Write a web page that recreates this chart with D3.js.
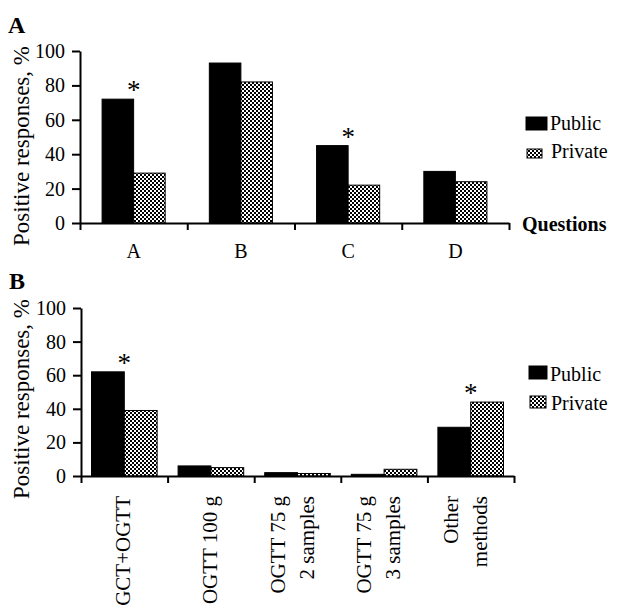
<!DOCTYPE html>
<html>
<head>
<meta charset="utf-8">
<script src="https://cdn.jsdelivr.net/npm/d3@7"></script>
<style>
  body { margin: 0; background: #fff; }
  text { font-family: "Liberation Serif", "Times New Roman", serif; fill: #000; }
</style>
</head>
<body>
<svg id="chart" width="617" height="610"></svg>
<script>
// data
var seriesNames = ['Public', 'Private'];
var yTicks = [0, 20, 40, 60, 80, 100];

var catsA = ['A', 'B', 'C', 'D'];
var publicA = [72, 93, 45, 30];
var privateA = [29, 82, 22, 24];
var starA = [1, 0, 1, 0];

var catsB = ['GCT+OGTT', 'OGTT 100 g', 'OGTT 75 g\n2 samples', 'OGTT 75 g\n3 samples', 'Other\nmethods'];
var publicB = [62, 6, 2, 1, 29];
var privateB = [39, 5, 1.5, 4, 44];
var starB = [1, 0, 0, 0, 1];

var svg = d3.select('#chart');

// checkered fill for the private bars
var pat = svg.append('defs').append('pattern')
    .attr('id', 'chk')
    .attr('width', 4).attr('height', 4)
    .attr('patternUnits', 'userSpaceOnUse');
pat.append('rect').attr('width', 4).attr('height', 4).attr('fill', '#000');
pat.append('rect').attr('width', 2).attr('height', 2).attr('fill', '#fff');
pat.append('rect').attr('x', 2).attr('y', 2).attr('width', 2).attr('height', 2).attr('fill', '#fff');

function drawPanel(o) {
    var g = svg.append('g');
    var n = o.cats.length;

    var x0 = d3.scaleBand().domain(d3.range(n)).range([o.left, o.right]);
    var x1 = d3.scaleBand().domain(seriesNames).range([0, x0.bandwidth()]).paddingOuter(o.pad);
    var y = d3.scaleLinear().domain([0, 100]).range([o.bottom, o.top]);
    var vals = [o.pub, o.priv];

    // bars
    seriesNames.forEach(function(s, si) {
        g.selectAll('rect.s' + si)
            .data(vals[si])
            .enter().append('rect')
            .attr('x', function(d, i) { return x0(i) + x1(s); })
            .attr('y', function(d) { return y(d); })
            .attr('width', x1.bandwidth())
            .attr('height', function(d) { return y(0) - y(d); })
            .attr('fill', si === 0 ? '#000' : 'url(#chk)')
            .attr('stroke', '#000')
            .attr('stroke-width', 1);
    });

    // asterisks over significant pairs
    var sig = d3.range(n).filter(function(i) { return o.star[i]; });
    g.selectAll('text.star')
        .data(sig)
        .enter().append('text')
        .attr('x', function(i) { return x0(i) + x0.bandwidth() / 2; })
        .attr('y', function(i) { return y(Math.max(o.pub[i], o.priv[i])); })
        .attr('text-anchor', 'middle')
        .style('font-size', '27px')
        .text('*');

    // y axis
    var ya = g.append('g')
        .attr('transform', 'translate(' + o.left + ',0)')
        .call(d3.axisLeft(y).tickValues(yTicks).tickSize(8).tickSizeOuter(0).tickPadding(7));
    ya.selectAll('path, line').attr('stroke', '#000').attr('stroke-width', 2);
    ya.selectAll('text').style('font-size', '20px').attr('font-family', null);

    // x axis with ticks on category edges
    var edge = d3.scaleLinear().domain([0, n]).range([o.left, o.right]);
    var xa = g.append('g')
        .attr('transform', 'translate(0,' + o.bottom + ')')
        .call(d3.axisBottom(edge).tickValues(d3.range(n + 1)).tickSize(7).tickSizeOuter(0).tickFormat(''));
    xa.selectAll('path, line').attr('stroke', '#000').attr('stroke-width', 2);

    // y title
    g.append('text')
        .attr('transform', 'translate(29,' + o.ytitle + ') rotate(-90)')
        .attr('text-anchor', 'middle')
        .style('font-size', '23px')
        .text('Positive responses, %');

    // panel letter
    g.append('text')
        .attr('x', o.letterX).attr('y', o.letterY)
        .style('font-size', '24px').style('font-weight', 'bold')
        .text(o.letter);

    // legend
    o.legend.forEach(function(l, i) {
        g.append('rect')
            .attr('x', l.x).attr('y', l.y).attr('width', l.w).attr('height', l.h)
            .attr('fill', i === 0 ? '#000' : 'url(#chk)')
            .attr('stroke', '#000').attr('stroke-width', 1);
        g.append('text')
            .attr('x', l.tx).attr('y', l.ty)
            .style('font-size', '20px')
            .text(seriesNames[i]);
    });

    return {g: g, x0: x0, y: y};
}

// panel A
var pa = drawPanel({
    cats: catsA, pub: publicA, priv: privateA, star: starA,
    left: 80, right: 509, top: 51, bottom: 223, pad: 0.7,
    ytitle: 146, letter: 'A', letterX: 8, letterY: 33,
    legend: [
        {x: 526, y: 117, w: 21, h: 13, tx: 550, ty: 130},
        {x: 527, y: 149, w: 15, h: 9, tx: 551, ty: 158}
    ]
});

pa.g.selectAll('text.cat')
    .data(catsA)
    .enter().append('text')
    .attr('x', function(d, i) { return pa.x0(i) + pa.x0.bandwidth() / 2; })
    .attr('y', 258)
    .attr('text-anchor', 'middle')
    .style('font-size', '20px')
    .text(function(d) { return d; });

pa.g.append('text')
    .attr('x', 522).attr('y', 231)
    .style('font-size', '20px').style('font-weight', 'bold')
    .text('Questions');

// panel B
var pb = drawPanel({
    cats: catsB, pub: publicB, priv: privateB, star: starB,
    left: 81, right: 514, top: 308, bottom: 476, pad: 0.32,
    ytitle: 399, letter: 'B', letterX: 9, letterY: 289,
    legend: [
        {x: 529, y: 366, w: 18, h: 13, tx: 550, ty: 381},
        {x: 530, y: 396, w: 16, h: 12, tx: 551, ty: 410}
    ]
});

// rotated, possibly two-line category labels
pb.g.selectAll('text.cat')
    .data(catsB)
    .enter().append('text')
    .attr('transform', function(d, i) {
        return 'translate(' + (pb.x0(i) + pb.x0.bandwidth() / 2) + ',496) rotate(-90)';
    })
    .attr('text-anchor', 'end')
    .style('font-size', '21px')
    .each(function(d) {
        var lines = d.split('\n');
        var t = d3.select(this);
        if (lines.length === 1) {
            t.append('tspan').attr('x', 0).attr('y', 6).text(lines[0]);
        } else {
            t.append('tspan').attr('x', 0).attr('y', -13).text(lines[0]);
            t.append('tspan').attr('x', 0).attr('y', 16).text(lines[1]);
        }
    });
</script>
</body>
</html>
